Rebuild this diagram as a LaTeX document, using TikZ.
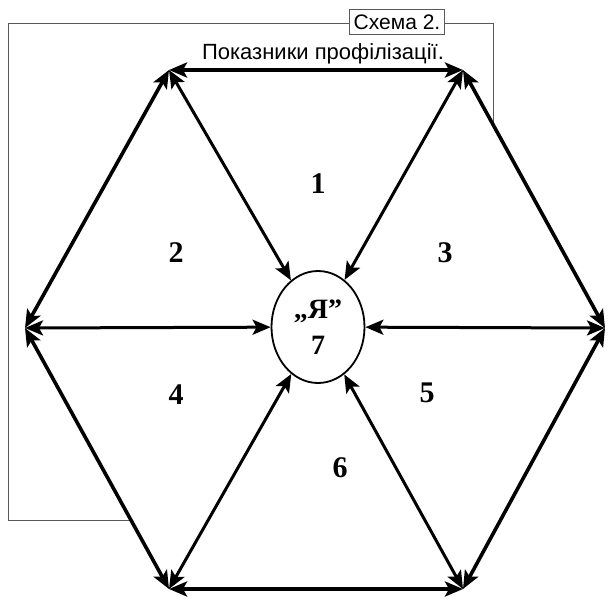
\documentclass[tikz,border=0pt]{standalone}
\usepackage{fontspec}
\setmainfont{Liberation Serif}
\newfontfamily\headfont{Liberation Sans}
\usetikzlibrary{arrows.meta,shapes.geometric}

\begin{document}
\begin{tikzpicture}[>={Stealth[length=18pt,width=15pt,inset=4pt]}, x=1pt, y=-1pt]

\tikzset{
  side/.style={<->, line width=3.6pt},
  spoke/.style={<->, line width=3pt},
  frame/.style={draw=black!65, line width=0.9pt},
  scheme/.style={
    draw=black!65,
    line width=0.9pt,
    fill=white,
    inner xsep=4pt,
    inner ysep=5pt,
    font=\headfont\fontsize{21}{23}\selectfont
  },
  heading/.style={
    inner sep=0pt,
    font=\headfont\fontsize{22}{24}\selectfont
  },
  centre/.style={
    draw,
    ellipse,
    line width=1.8pt,
    fill=white,
    inner sep=0pt,
    minimum width=93pt,
    minimum height=112pt,
    align=center,
    font=\bfseries\fontsize{28}{36}\selectfont
  },
  sector/.style={font=\bfseries\fontsize{30}{30}\selectfont}
}

\useasboundingbox (0,0) rectangle (608,598);

% thin frame, partly hidden behind the hexagon
\draw[frame] (8,23) rectangle (493,520);

% hexagon corners
\coordinate (vl)  at (25,328);
\coordinate (vtl) at (169,70);
\coordinate (vtr) at (463,70);
\coordinate (vr)  at (605,328);
\coordinate (vbr) at (463,589);
\coordinate (vbl) at (169,589);

\fill[white] (vl) -- (vtl) -- (vtr) -- (vr) -- (vbr) -- (vbl) -- cycle;

\node[scheme] (scheme) at (397,22) {Схема 2.};
\node[heading] (heading) at (323,54) {Показники профілізації.};

\node[centre] (ya) at (318,327) {„Я”\\7};

\draw[side] (vl) -- (vtl);
\draw[side] (vtl) -- (vtr);
\draw[side] (vtr) -- (vr);
\draw[side] (vr) -- (vbr);
\draw[side] (vbr) -- (vbl);
\draw[side] (vbl) -- (vl);

\foreach \v in {vl,vtl,vtr,vr,vbr,vbl} {
  \draw[spoke] (\v) -- (ya);
}

\node[sector] (s1) at (318,184) {1};
\node[sector] (s2) at (176,253) {2};
\node[sector] (s3) at (445,253) {3};
\node[sector] (s4) at (176,395) {4};
\node[sector] (s5) at (427,393) {5};
\node[sector] (s6) at (340,468) {6};

\end{tikzpicture}
\end{document}
